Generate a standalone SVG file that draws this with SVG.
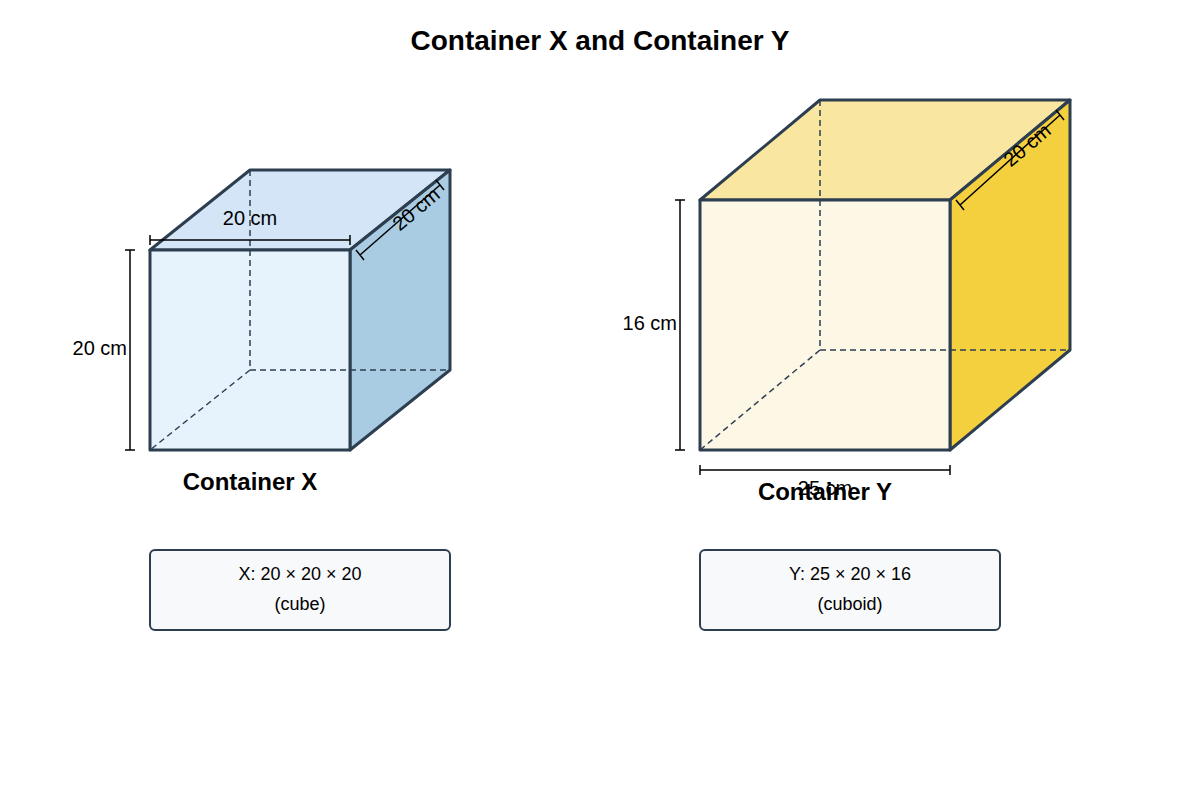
<svg xmlns="http://www.w3.org/2000/svg" width="1200" height="800" viewBox="0 0 1200 800">
<style>
text{font-family:"Liberation Sans",Arial,sans-serif;fill:#000}
.edge{stroke:#2c3e50;stroke-width:3;stroke-linejoin:round}
.hid{stroke:#2c3e50;stroke-width:1.5;stroke-dasharray:6,4;fill:none}
.dim{stroke:#000;stroke-width:1.5;fill:none}
.lbl{font-size:20px}
.info{font-size:18px}
.ttl{font-size:24px;font-weight:bold}
.box{fill:#f8f9fa;stroke:#2c3e50;stroke-width:2}
</style>
<rect width="1200" height="800" fill="#fff"/>
<text x="600" y="50" text-anchor="middle" font-size="28" font-weight="bold">Container X and Container Y</text>
<g id="containerX">
<polygon class="edge" fill="#d4e5f7" points="150,250 350,250 450,170 250,170"/>
<polygon class="edge" fill="#a9cce3" points="350,250 450,170 450,370 350,450"/>
<rect class="edge" fill="#e6f2fc" x="150" y="250" width="200" height="200"/>
<path class="hid" d="M250,170V370H450M250,370L150,450"/>
<text class="ttl" x="250" y="490" text-anchor="middle">Container X</text>
</g>
<g id="containerY">
<polygon class="edge" fill="#f9e6a0" points="700,200 950,200 1070,100 820,100"/>
<polygon class="edge" fill="#f4d03f" points="950,200 1070,100 1070,350 950,450"/>
<rect class="edge" fill="#fdf8e6" x="700" y="200" width="250" height="250"/>
<path class="hid" d="M820,100V350H1070M820,350L700,450"/>
</g>
<g id="connectors">
<path class="dim" d="M150,240H350M150,235V245M350,235V245"/>
<path class="dim" d="M130,250V450M125,250H135M125,450H135"/>
<path class="dim" d="M360,255L440,185M356,250L364,260M436,180L444,190"/>
<path class="dim" d="M680,200V450M675,200H685M675,450H685"/>
<path class="dim" d="M700,470H950M700,465V475M950,465V475"/>
<path class="dim" d="M960,205L1060,115M956,200L964,210M1056,110L1064,120"/>
</g>
<g id="labels">
<text class="lbl" x="250" y="225" text-anchor="middle">20 cm</text>
<text class="lbl" x="127" y="355" text-anchor="end">20 cm</text>
<text class="lbl" x="416" y="216" text-anchor="middle" transform="rotate(-40 416 209)">20 cm</text>
<text class="lbl" x="677" y="330" text-anchor="end">16 cm</text>
<text class="lbl" x="825" y="495" text-anchor="middle">25 cm</text>
<text class="lbl" x="1027" y="152" text-anchor="middle" transform="rotate(-40 1027 145)">20 cm</text>
<text class="ttl" x="825" y="500" text-anchor="middle">Container Y</text>
</g>
<g id="infoX">
<rect class="box" x="150" y="550" width="300" height="80" rx="5"/>
<text class="info" x="300" y="580" text-anchor="middle">X: 20 × 20 × 20</text>
<text class="info" x="300" y="610" text-anchor="middle">(cube)</text>
</g>
<g id="infoY">
<rect class="box" x="700" y="550" width="300" height="80" rx="5"/>
<text class="info" x="850" y="580" text-anchor="middle">Y: 25 × 20 × 16</text>
<text class="info" x="850" y="610" text-anchor="middle">(cuboid)</text>
</g>
</svg>
